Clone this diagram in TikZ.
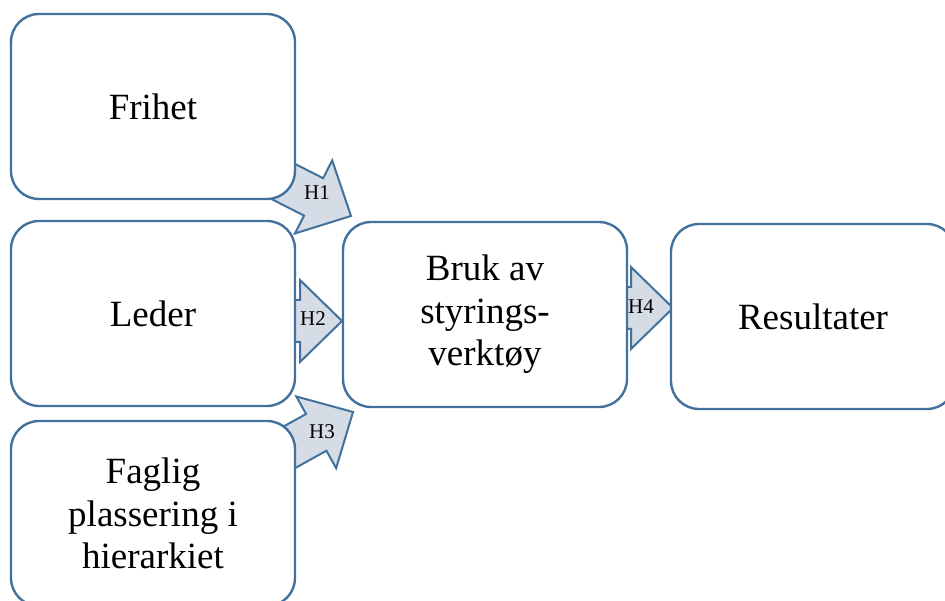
\documentclass[tikz,border=0pt]{standalone}
\usepackage{fontspec}
\setmainfont{Liberation Serif}
\definecolor{bordc}{HTML}{41719C}
\definecolor{arrowc}{HTML}{D6DCE5}
\tikzset{
  box/.style={draw=bordc, fill=white, line width=2.4pt, rounded corners=28pt,
    minimum width=284pt, minimum height=185pt, align=center,
    font=\fontsize{37}{42.5}\selectfont, inner sep=0pt},
  harrow/.style={draw=bordc, fill=arrowc, line width=2pt, line join=miter},
  hlabel/.style={font=\fontsize{21}{24}\selectfont, inner sep=0pt},
  pics/blockarr/.style={code={
    \draw[harrow] (0,0) -- (-42,-41) -- (-42,-21) -- (-110,-21) -- (-110,21) -- (-42,21) -- (-42,41) -- cycle;}}
}
\begin{document}
\begin{tikzpicture}[x=1pt,y=-1pt]
\useasboundingbox (0,0) rectangle (945,601);
\clip (0,0) rectangle (945,601);
% arrows (drawn first, tails hidden by boxes)
\coordinate (t1) at (351,216);
\coordinate (t2) at (342,321);
\coordinate (t3) at (353,412);
\coordinate (t4) at (673,308);
\pic[rotate=-27] at (t1) {blockarr};
\pic at (t2) {blockarr};
\pic[rotate=29] at (t3) {blockarr};
\pic at (t4) {blockarr};
% boxes
\node[box] (fri) at (153,106.5) {Frihet};
\node[box] (led) at (153,313.5) {Leder};
\node[box] (fag) at (153,513.5) {Faglig\\plassering i\\hierarkiet};
\node[box] (bruk) at (485,314.5) {Bruk av\\styrings-\\verktøy};
\node[box] (res) at (813,316.5) {Resultater};
% labels
\node[hlabel] (h1) at (317,193) {H1};
\node[hlabel] (h2) at (313,319) {H2};
\node[hlabel] (h3) at (322,432) {H3};
\node[hlabel] (h4) at (641,307) {H4};
\end{tikzpicture}
\end{document}
